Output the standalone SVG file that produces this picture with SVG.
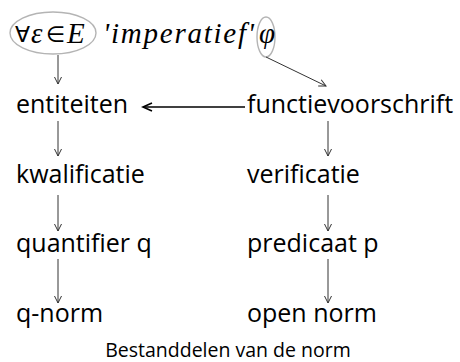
<svg xmlns="http://www.w3.org/2000/svg" width="460" height="362" viewBox="0 0 460 362">
  <defs>
    <marker id="thin" markerWidth="10" markerHeight="10" refX="8" refY="4" orient="auto" markerUnits="userSpaceOnUse">
      <path d="M1,0.5 L8,4 L1,7.5" fill="none" stroke="#333" stroke-width="1"/>
    </marker>
    <marker id="bold" markerWidth="14" markerHeight="12" refX="10" refY="5" orient="auto" markerUnits="userSpaceOnUse">
      <path d="M1,1 L10,5 L1,9" fill="none" stroke="#000" stroke-width="1.6"/>
    </marker>
  </defs>
  <style>
    .lbl { font-family: "Open Sans", "Noto Sans", sans-serif; font-size: 25px; fill: #000; }
    .cap { font-family: "Open Sans", "Noto Sans", sans-serif; font-size: 19.5px; fill: #000; }
    .math { font-family: "Liberation Serif", "DejaVu Serif", serif; font-size: 29px; fill: #000; }
    .sym { font-family: "DejaVu Sans", "Liberation Serif", sans-serif; font-size: 22px; fill: #000; }
    .it { font-style: italic; }
    .ring { fill: none; stroke: #b4b4b4; stroke-width: 1.4; }
    .edge { fill: none; stroke: #333; stroke-width: 1; marker-end: url(#thin); }
  </style>

  <!-- formula: for all epsilon in E, 'imperatief' phi -->
  <g id="formula">
    <ellipse class="ring" cx="53" cy="33" rx="43" ry="21"/>
    <text class="sym" x="15" y="42">∀</text>
    <text class="math it" x="31" y="43">ε</text>
    <text class="sym" x="46" y="42">∈</text>
    <text class="math it" x="67" y="43">E</text>
    <text class="math it" x="103" y="43" textLength="151" lengthAdjust="spacing">'imperatief'</text>
    <ellipse class="ring" cx="266" cy="37" rx="9" ry="20"/>
    <text class="math it" x="267" y="43" text-anchor="middle">φ</text>
  </g>

  <!-- left column -->
  <g id="entiteiten"><text class="lbl" x="16" y="113">entiteiten</text></g>
  <g id="kwalificatie"><text class="lbl" x="16" y="183">kwalificatie</text></g>
  <g id="quantifier"><text class="lbl" x="16" y="252">quantifier q</text></g>
  <g id="q-norm"><text class="lbl" x="16" y="322">q-norm</text></g>

  <!-- right column -->
  <g id="functievoorschrift"><text class="lbl" x="247" y="113">functievoorschrift</text></g>
  <g id="verificatie"><text class="lbl" x="247" y="183">verificatie</text></g>
  <g id="predicaat"><text class="lbl" x="247" y="252">predicaat p</text></g>
  <g id="open-norm"><text class="lbl" x="247" y="322">open norm</text></g>

  <g id="caption"><text class="cap" x="228" y="357" text-anchor="middle">Bestanddelen van de norm</text></g>

  <!-- connectors -->
  <g id="connectors">
    <line class="edge" x1="58" y1="55" x2="58" y2="84"/>
    <line class="edge" x1="266" y1="57" x2="326" y2="86"/>
    <line x1="245" y1="107" x2="143" y2="107" stroke="#000" stroke-width="1.5" marker-end="url(#bold)"/>
    <line class="edge" x1="58" y1="121" x2="58" y2="156"/>
    <line class="edge" x1="328" y1="121" x2="328" y2="156"/>
    <line class="edge" x1="58" y1="195" x2="58" y2="231"/>
    <line class="edge" x1="328" y1="195" x2="328" y2="231"/>
    <line class="edge" x1="58" y1="259" x2="58" y2="303"/>
    <line class="edge" x1="328" y1="259" x2="328" y2="303"/>
  </g>
</svg>
